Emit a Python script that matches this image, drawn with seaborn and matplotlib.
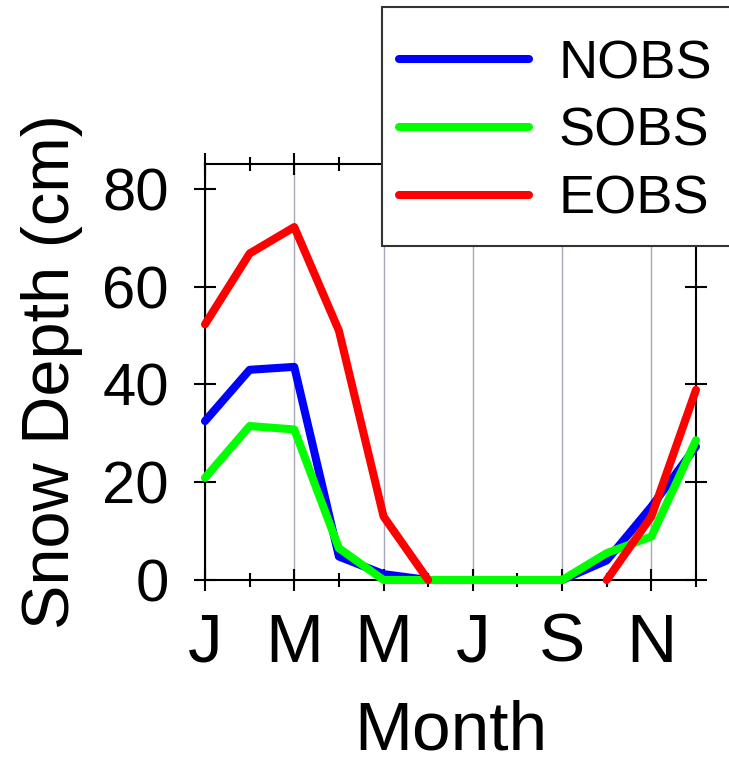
import numpy as np
import pandas as pd
import matplotlib.pyplot as plt
import seaborn as sns

# monthly mean snow depth (cm), Jan..Dec
months = ["Jan", "Feb", "Mar", "Apr", "May", "Jun",
          "Jul", "Aug", "Sep", "Oct", "Nov", "Dec"]
tick_labels = ["J", "M", "M", "J", "S", "N"]
nobs = [32.5, 43.0, 43.6, 4.8, 1.2, 0.0, 0.0, 0.0, 0.0, 4.0, 15.0, 27.3]
sobs = [20.9, 31.5, 30.8, 6.5, 0.0, 0.0, 0.0, 0.0, 0.0, 5.5, 8.9, 28.6]
eobs = [52.3, 66.8, 72.2, 51.0, 13.0, 0.0, np.nan, np.nan, np.nan, 0.0, 13.0, 38.9]

series = {"NOBS": nobs, "SOBS": sobs, "EOBS": eobs}
colors = {"NOBS": "#0000ff", "SOBS": "#00ff00", "EOBS": "#ff0000"}

# long table; gaps (NaN) split a series into separate units so the line breaks
rows = []
for name, vals in series.items():
    seg = 0
    for i, v in enumerate(vals):
        if np.isnan(v):
            seg += 1
            continue
        rows.append({"month": i, "depth": v, "series": name, "unit": f"{name}_{seg}"})
df = pd.DataFrame(rows)

sns.set_style("ticks")
plt.rcParams["font.family"] = ["Liberation Sans", "DejaVu Sans"]
plt.rcParams.update({"text.color": "black", "axes.labelcolor": "black",
                     "xtick.color": "black", "ytick.color": "black"})

fig = plt.figure(figsize=(7.29, 7.66), dpi=100)
ax = fig.add_axes([205 / 729, 1 - 580 / 766, (696 - 205) / 729, (580 - 164) / 766])

sns.lineplot(data=df, x="month", y="depth", hue="series", units="unit",
             estimator=None, palette=colors, hue_order=list(series),
             linewidth=5.8, ax=ax)

for ln in ax.lines:
    ln.set_clip_on(False)
    ln.set_solid_capstyle("round")
    ln.set_solid_joinstyle("round")
    ln.set_zorder(3)

handles, labels = ax.get_legend_handles_labels()
ax.get_legend().remove()

ax.set_xlim(0, 11)
ax.set_ylim(0, 85.1)
ax.set_xticks(range(0, 12, 2))
ax.set_xticklabels(tick_labels)
ax.set_xticks(range(12), minor=True)
ax.set_yticks(range(0, 81, 20))

ax.tick_params(axis="both", which="both", direction="inout", width=1.5,
               color="black", top=True, right=True)
ax.tick_params(axis="both", which="major", length=16)
ax.tick_params(axis="x", which="minor", length=10)
ax.tick_params(axis="x", which="major", labelsize=50, pad=15)
ax.tick_params(axis="y", which="major", labelsize=43, pad=18)

for sp in ax.spines.values():
    sp.set_visible(True)
    sp.set_linewidth(1.5)
    sp.set_color("black")

ax.grid(axis="x", which="major", color="#a8a8bc", linewidth=1.0)
ax.grid(axis="y", visible=False)

ax.set_xlabel("Month", fontsize=50, labelpad=17)
ax.set_ylabel("Snow Depth (cm)", fontsize=48, labelpad=14)

# legend box drawn separately so its padding matches the original
box = plt.Rectangle((382 / 729, 1 - 246 / 766), (740 - 382) / 729, (246 - 7) / 766,
                    transform=fig.transFigure, facecolor="white",
                    edgecolor="#333333", linewidth=1.5, zorder=5)
fig.add_artist(box)

leg = fig.legend(handles, labels, loc="center left",
                 bbox_to_anchor=(399 / 729, 1 - 132 / 766), borderaxespad=0,
                 fontsize=39, frameon=False, handlelength=2.4,
                 handletextpad=0.55, borderpad=0, labelspacing=0.33)
leg.set_zorder(6)
for h in leg.get_lines():
    h.set_linewidth(5.8)
    h.set_solid_capstyle("round")

fig.savefig("out.png", dpi=100)
